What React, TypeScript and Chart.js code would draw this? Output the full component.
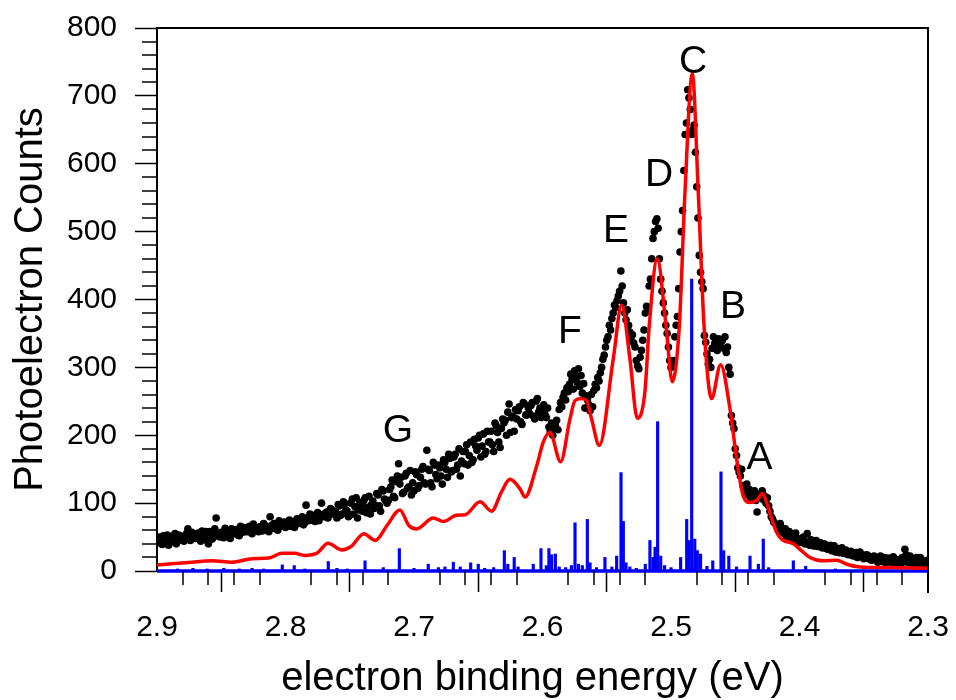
import React, { useEffect, useRef } from "react";
import { Chart, registerables } from "chart.js";

Chart.register(...registerables);

// ---- measured photoelectron counts (black dots) ----
// segment 1a: x from 2.900 down to 2.602, step 0.002
const dotsLeftStart = 2.9;
const dotsLeftStep = 0.002;
const dotsLeft = [
  44, 50, 39, 47, 53,
  42, 48, 55, 44, 49,
  51, 46, 62, 45, 53,
  48, 56, 44, 52, 58,
  40, 55, 50, 78, 52,
  57, 49, 60, 53, 62,
  55, 61, 52, 59, 64,
  58, 66, 55, 62, 60,
  65, 59, 67, 61, 80,
  63, 68, 60, 70, 66,
  64, 71, 66, 73, 69,
  70, 76, 68, 97, 74,
  75, 82, 77, 74, 100,
  80, 87, 82, 90, 85,
  78, 96, 84, 100, 88,
  82, 106, 95, 78, 101,
  88, 108, 94, 84, 103,
  96, 112, 88, 118, 104,
  104, 124, 110, 132, 158,
  138, 116, 144, 124, 112,
  118, 142, 126, 150, 130,
  178, 148, 124, 156, 136,
  152, 128, 160, 138, 166,
  148, 172, 156, 140, 176,
  176, 156, 190, 164, 184,
  196, 168, 202, 176, 190,
  206, 176, 214, 190, 210,
  218, 200, 246, 226, 206,
  224, 242, 216, 246, 230,
  232, 248, 224, 254, 240,
];
// segment 1b: x from 2.899 down to 2.601, step 0.002
const dotsLeft2Start = 2.899;
const dotsLeft2 = [
  48, 41, 52, 45, 38,
  51, 45, 40, 53, 47,
  44, 55, 49, 57, 50,
  54, 47, 59, 50, 45,
  58, 47, 62, 55, 50,
  52, 63, 56, 48, 58,
  60, 53, 66, 57, 62,
  63, 57, 69, 64, 58,
  60, 70, 64, 58, 67,
  70, 62, 74, 67, 72,
  68, 75, 70, 64, 77,
  73, 80, 71, 78, 84,
  80, 73, 86, 79, 83,
  85, 78, 92, 84, 88,
  98, 82, 102, 90, 80,
  100, 84, 108, 90, 98,
  104, 86, 110, 98, 92,
  114, 96, 120, 106, 100,
  120, 134, 108, 140, 128,
  114, 140, 122, 148, 130,
  146, 122, 138, 154, 128,
  150, 130, 160, 142, 156,
  140, 164, 150, 172, 146,
  168, 150, 180, 162, 158,
  186, 170, 160, 194, 178,
  200, 184, 172, 206, 190,
  186, 218, 204, 182, 224,
  222, 234, 204, 228, 238,
  236, 220, 248, 230, 240,
  244, 228, 250, 234, 226,
];
// segment 2: x from 2.600 down to 2.420, step 0.001
const dotsPeakStart = 2.6;
const dotsPeakStep = 0.001;
const dotsPeak = [
  238, 245, 230, 226, 240, 212, 205, 218, 200, 210,
  215, 222, 208, 238, 248, 242, 256, 262, 252, 270,
  264, 275, 290, 282, 268, 295, 286, 278, 298, 272,
  288, 262, 276, 240, 258, 252, 245, 236, 260, 242,
  266, 275, 270, 285, 280, 292, 300, 312, 318, 330,
  340, 345, 362, 355, 372, 380, 392, 388, 398, 405,
  412, 442, 420, 395, 380, 370, 385, 362, 352, 340,
  348, 336, 330, 310, 302, 298, 315, 325, 340, 355,
  380, 390, 385, 420, 430, 460, 490, 500, 515, 519,
  505, 460, 430, 412, 395, 380, 362, 350, 330, 310,
  300, 305, 310, 345, 362, 375, 416, 470, 500, 531,
  590, 643, 660, 709, 697, 680, 643, 650, 657, 617,
  566, 520, 465, 440, 426, 416, 347, 337, 320, 305,
  312, 300, 328, 345, 335, 340, 325, 342, 330, 338,
  340, 328, 345, 322, 330, 300, 290, 229, 218, 210,
  180, 170, 152, 146, 140, 150, 126, 122, 118, 128,
  112, 120, 106, 115, 110, 118, 104, 87, 112, 108,
  112, 118, 105, 110, 100, 108, 96, 88, 80, 77,
  72,
];
// segment 3a: x from 2.418 down to 2.300, step 0.002
const dotsRightStart = 2.418;
const dotsRightStep = 0.002;
const dotsRight = [
  68, 60, 64, 55, 50, 58, 45, 52, 48, 42,
  46, 40, 55, 38, 44, 41, 36, 42, 34, 39,
  32, 38, 35, 28, 33, 30, 26, 31, 24, 29,
  22, 27, 21, 25, 18, 24, 20, 16, 22, 15,
  19, 14, 20, 13, 17, 12, 18, 11, 16, 20,
  32, 13, 22, 10, 18, 12, 20, 14, 8, 16,
];
// segment 3b: x from 2.417 down to 2.301, step 0.002
const dotsRight2Start = 2.417;
const dotsRight2 = [
  62, 70, 57, 62, 47, 53, 49, 56, 44, 47,
  50, 43, 39, 46, 37, 45, 39, 35, 40, 33,
  36, 30, 37, 32, 27, 34, 29, 25, 27, 23,
  26, 20, 28, 22, 19, 23, 17, 21, 18, 13,
  22, 16, 12, 19, 14, 21, 13, 17, 10, 15,
  24, 18, 12, 16, 20, 11, 17, 13, 10,
];

// ---- simulated spectrum (red line) ----
const fitX = [
  2.9, 2.886, 2.873, 2.857, 2.842, 2.826, 2.813, 2.803, 2.793, 2.785,
  2.775, 2.767, 2.756, 2.749, 2.739, 2.73, 2.721, 2.711, 2.704, 2.698,
  2.685, 2.677, 2.667, 2.66, 2.6486, 2.6396, 2.6318, 2.6253, 2.6175, 2.6136,
  2.6045, 2.5994, 2.5942, 2.5859, 2.5786, 2.5747, 2.57, 2.5657, 2.5618, 2.5558,
  2.5449, 2.5384, 2.532, 2.5262, 2.5203, 2.5169, 2.5107, 2.5039, 2.499, 2.4935,
  2.4891, 2.4834, 2.4788, 2.4743, 2.4684, 2.4614, 2.4541, 2.4489, 2.4437, 2.4385,
  2.4333, 2.4287, 2.4256, 2.4217, 2.4178, 2.414, 2.4048, 2.3996, 2.3918, 2.3815,
  2.3711, 2.3633, 2.3529, 2.3296, 2.3,
];
const fitY = [
  9, 11, 13, 15, 13, 18, 19, 26, 26, 23,
  27, 41, 31, 36, 55, 45, 67, 90, 67, 62,
  78, 73, 82, 83, 102, 88, 117, 135, 121, 109,
  155, 190, 204, 161, 224, 251, 254, 251, 224, 185,
  313, 392, 313, 225, 264, 362, 460, 362, 279, 362,
  559, 733, 559, 362, 254, 304, 239, 165, 110, 101,
  104, 114, 101, 77, 57, 47, 40, 32, 20, 15,
  16, 10, 6, 5, 4,
];

// ---- stick spectrum (blue) ----
const stickX = [
  2.884, 2.872, 2.861, 2.848, 2.836, 2.826, 2.817, 2.8025, 2.7932, 2.785,
  2.7667, 2.76, 2.752, 2.7381, 2.7239, 2.7114, 2.7, 2.6889, 2.681, 2.6759,
  2.6694, 2.664, 2.6559, 2.65, 2.645, 2.638, 2.6297, 2.627, 2.622, 2.619,
  2.6072, 2.6012, 2.597, 2.595, 2.5929, 2.59, 2.587, 2.582, 2.5775, 2.5747,
  2.572, 2.569, 2.5651, 2.563, 2.558, 2.5514, 2.546, 2.5423, 2.5389, 2.5371,
  2.535, 2.532, 2.527, 2.52, 2.5164, 2.514, 2.5124, 2.5104, 2.508, 2.505,
  2.5, 2.4925, 2.4878, 2.486, 2.4839, 2.4815, 2.4795, 2.477, 2.472, 2.4675,
  2.4611, 2.459, 2.455, 2.449, 2.4385, 2.432, 2.4282, 2.424, 2.4048, 2.3952,
  2.372, 2.35,
];
const stickY = [
  3, 4, 3, 4, 3, 4, 3, 9, 8, 3,
  14, 4, 3, 15, 5, 33, 4, 10, 5, 6,
  13, 6, 12, 10, 4, 5, 30, 10, 20, 6,
  10, 33, 8, 33, 24, 25, 6, 5, 8, 71,
  10, 8, 76, 12, 5, 20, 6, 22, 145, 73,
  12, 6, 4, 10, 45, 20, 35, 220, 22, 8,
  5, 20, 76, 45, 430, 47, 30, 25, 7, 15,
  146, 30, 22, 6, 22, 10, 47, 5, 15, 7,
  3, 2,
];
const baselineX = [2.9, 2.3];
const baselineY = [0, 0];

// ---- peak labels ----
const peakLabels = ["A", "B", "C", "D", "E", "F", "G"];
const peakLabelX = [2.4311, 2.4518, 2.4829, 2.5093, 2.5428, 2.5786, 2.7125];
const peakLabelY = [171, 394, 754, 588, 506, 357, 211];

const xTitle = "electron binding energy (eV)";
const yTitle = "Photoelectron Counts";

const FONT = '"Liberation Sans", Arial, Helvetica, sans-serif';

function segmentPoints(start: number, step: number, values: number[]) {
  return values.map((y, i) => ({ x: +(start - i * step).toFixed(4), y }));
}

const decorPlugin = {
  id: "decor",
  afterDraw(chart: any) {
    const { ctx, chartArea, scales } = chart;
    const xs = scales.x;
    const ys = scales.y;
    const { left, right, top, bottom } = chartArea;
    ctx.save();
    ctx.strokeStyle = "#000";
    ctx.lineWidth = 1.5;
    ctx.beginPath();
    for (let i = 0; i <= 30; i++) {
      if (i % 5 === 0) continue;
      const px = Math.round(xs.getPixelForValue(2.3 + i * 0.02));
      ctx.moveTo(px, bottom);
      ctx.lineTo(px, bottom + 14);
    }
    for (let i = 0; i <= 40; i++) {
      if (i % 5 === 0) continue;
      const py = Math.round(ys.getPixelForValue(i * 20));
      ctx.moveTo(left - 15, py);
      ctx.lineTo(left, py);
    }
    ctx.stroke();

    ctx.lineWidth = 2;
    ctx.beginPath();
    ctx.moveTo(left - 1, top);
    ctx.lineTo(right, top);
    ctx.lineTo(right, bottom + 22);
    ctx.stroke();

    ctx.fillStyle = "#000";
    ctx.textAlign = "center";
    ctx.textBaseline = "alphabetic";
    const fs = 39;
    ctx.font = `${fs}px ${FONT}`;
    peakLabels.forEach((t, i) => {
      ctx.fillText(
        t,
        xs.getPixelForValue(peakLabelX[i]),
        ys.getPixelForValue(peakLabelY[i]) + 0.358 * fs
      );
    });

    ctx.font = `40px ${FONT}`;
    ctx.fillText(xTitle, (left + right) / 2 - 10, 690);
    ctx.restore();
  },
};

export default function App() {
  const canvasRef = useRef<HTMLCanvasElement | null>(null);

  useEffect(() => {
    document.body.style.margin = "0";
    const canvas = canvasRef.current;
    if (!canvas) return;

    const dots = [
      ...segmentPoints(dotsLeftStart, dotsLeftStep, dotsLeft),
      ...segmentPoints(dotsLeft2Start, dotsLeftStep, dotsLeft2),
      ...segmentPoints(dotsPeakStart, dotsPeakStep, dotsPeak),
      ...segmentPoints(dotsRightStart, dotsRightStep, dotsRight),
      ...segmentPoints(dotsRight2Start, dotsRightStep, dotsRight2),
    ];
    const fit = fitX.map((x, i) => ({ x, y: fitY[i] }));
    const sticks = stickX.map((x, i) => ({ x, y: stickY[i] }));
    const baseline = baselineX.map((x, i) => ({ x, y: baselineY[i] }));

    const chart = new Chart(canvas, {
      type: "scatter",
      data: {
        datasets: [
          {
            type: "line",
            label: "simulation",
            data: fit,
            borderColor: "#ff0000",
            borderWidth: 3.5,
            pointRadius: 0,
            fill: false,
            cubicInterpolationMode: "monotone",
            order: 0,
            clip: 4,
          } as any,
          {
            type: "bar",
            label: "sticks",
            data: sticks,
            backgroundColor: "#0000ff",
            borderWidth: 0,
            barThickness: 2.5,
            grouped: false,
            order: 1,
          } as any,
          {
            type: "line",
            label: "baseline",
            data: baseline,
            borderColor: "#0000ff",
            borderWidth: 3.5,
            pointRadius: 0,
            fill: false,
            order: 1,
            clip: false,
          } as any,
          {
            type: "scatter",
            label: "experiment",
            data: dots,
            pointRadius: 3.8,
            pointBackgroundColor: "#000",
            pointBorderWidth: 0,
            showLine: false,
            order: 2,
          } as any,
        ],
      },
      options: {
        responsive: false,
        devicePixelRatio: 1,
        animation: false,
        events: [],
        layout: { padding: { top: 28, right: 28, left: 0, bottom: 0 } },
        plugins: {
          legend: { display: false },
          tooltip: { enabled: false },
        },
        scales: {
          x: {
            type: "linear",
            reverse: true,
            min: 2.3,
            max: 2.9,
            offset: false,
            ticks: {
              stepSize: 0.1,
              color: "#000",
              padding: 18,
              font: { size: 30, family: FONT },
              maxRotation: 0,
              callback: (v: any) => Number(v).toFixed(1),
            },
            grid: {
              drawOnChartArea: false,
              drawTicks: true,
              tickLength: 21,
              tickWidth: 1.5,
              tickColor: "#000",
            },
            border: { display: true, color: "#000", width: 2 },
            afterFit: (s: any) => {
              s.height = 129;
              s.paddingLeft = 0;
              s.paddingRight = 0;
            },
          },
          y: {
            type: "linear",
            min: 0,
            max: 800,
            ticks: {
              stepSize: 100,
              color: "#000",
              padding: 18,
              font: { size: 30, family: FONT },
            },
            grid: {
              drawOnChartArea: false,
              drawTicks: true,
              tickLength: 22,
              tickWidth: 1.5,
              tickColor: "#000",
            },
            border: { display: true, color: "#000", width: 2 },
            title: {
              display: true,
              text: yTitle,
              color: "#000",
              font: { size: 40, family: FONT },
              padding: { top: 7, bottom: 0 },
            },
            afterFit: (s: any) => {
              s.width = 157;
              s.paddingTop = 0;
              s.paddingBottom = 0;
            },
          },
        },
      } as any,
      plugins: [decorPlugin],
    });

    return () => chart.destroy();
  }, []);

  return (
    <div style={{ width: 956, height: 700 }}>
      <canvas
        ref={canvasRef}
        width={956}
        height={700}
        style={{ display: "block", width: 956, height: 700 }}
      />
    </div>
  );
}
